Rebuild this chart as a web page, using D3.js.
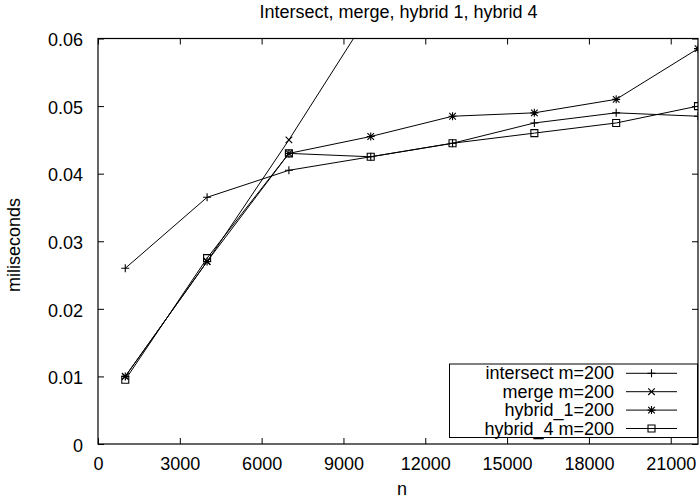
<!DOCTYPE html>
<html><head><meta charset="utf-8">
<script src="https://cdn.jsdelivr.net/npm/d3@7"></script>
<style>body{margin:0;background:#fff}svg{display:block}text{font-family:"Liberation Sans",Arial,sans-serif;fill:#000}</style>
</head><body><svg id="c" width="700" height="501"></svg>
<script>
const nValues = [1000, 4000, 7000, 10000, 13000, 16000, 19000, 22000];
const intersectVals = [0.026, 0.0365, 0.0405, 0.0425, 0.0445, 0.0475, 0.049, 0.0485];
const mergeVals = [0.010, 0.027, 0.045, 0.064];
const hybrid1Vals = [0.010, 0.027, 0.043, 0.0455, 0.0485, 0.049, 0.051, 0.0585];
const hybrid4Vals = [0.0095, 0.0275, 0.043, 0.0425, 0.0445, 0.046, 0.0475, 0.050];
const seriesNames = ["intersect m=200", "merge m=200", "hybrid_1=200", "hybrid_4 m=200"];
const markerTypes = ["plus", "cross", "star", "square"];
const xTicks = [0, 3000, 6000, 9000, 12000, 15000, 18000, 21000];
const yTicks = [0, 0.01, 0.02, 0.03, 0.04, 0.05, 0.06];
const titleText = "Intersect, merge, hybrid 1, hybrid 4";

const FS = "18px";
const svg = d3.select("#c");
const L = 98, R = 698, T = 38.5, B = 444;
const x = d3.scaleLinear().domain([0, 22000]).range([L, R]);
const y = d3.scaleLinear().domain([0, 0.06]).range([B, T]);

const series = [intersectVals, mergeVals, hybrid1Vals, hybrid4Vals].map((vals, i) => ({
  name: seriesNames[i], marker: markerTypes[i],
  pts: vals.map((v, j) => [nValues[j], v])
}));

svg.append("defs").append("clipPath").attr("id", "clip")
  .append("rect").attr("x", L).attr("y", T).attr("width", R - L).attr("height", B - T);

svg.append("text").attr("x", 398.5).attr("y", 18).attr("text-anchor", "middle")
  .style("font-size", FS).text(titleText);

// axes
const tl = 6;
const gx = svg.append("g").attr("transform", `translate(0,${B})`)
  .call(d3.axisBottom(x).tickValues(xTicks).tickSize(-tl).tickPadding(13).tickFormat(d3.format("d")));
const gxt = svg.append("g").attr("transform", `translate(0,${T})`)
  .call(d3.axisTop(x).tickValues(xTicks).tickSize(-tl).tickFormat(""));
const gy = svg.append("g").attr("transform", `translate(${L},0)`)
  .call(d3.axisLeft(y).tickValues(yTicks).tickSize(-tl).tickPadding(15).tickFormat(d => d === 0 ? "0" : d3.format(".2f")(d)));
const gyr = svg.append("g").attr("transform", `translate(${R},0)`)
  .call(d3.axisRight(y).tickValues(yTicks).tickSize(-tl).tickFormat(""));
[gx, gxt, gy, gyr].forEach(g => {
  g.select(".domain").remove();
  g.selectAll("line").attr("stroke", "#000");
  g.selectAll("text").style("font-size", FS).attr("font-family", "Liberation Sans, Arial, sans-serif");
});
gy.selectAll("text").attr("dy", "0.4em");
svg.append("rect").attr("x", L).attr("y", T).attr("width", R - L).attr("height", B - T)
  .attr("fill", "none").attr("stroke", "#000").attr("stroke-width", 1.2);

svg.append("text").attr("x", 402).attr("y", 495).attr("text-anchor", "middle")
  .style("font-size", FS).text("n");
svg.append("text").attr("transform", `translate(20,245) rotate(-90)`)
  .attr("text-anchor", "middle").style("font-size", FS).text("miliseconds");

function drawMarker(g, type, cx, cy) {
  const s = 4;
  const p = d3.path();
  if (type === "plus" || type === "star") {
    p.moveTo(cx - s, cy); p.lineTo(cx + s, cy);
    p.moveTo(cx, cy - s); p.lineTo(cx, cy + s);
  }
  if (type === "cross" || type === "star") {
    const c = 3.3;
    p.moveTo(cx - c, cy - c); p.lineTo(cx + c, cy + c);
    p.moveTo(cx - c, cy + c); p.lineTo(cx + c, cy - c);
  }
  if (type === "square") {
    p.rect(cx - 3.5, cy - 3.5, 7, 7);
  }
  g.append("path").attr("d", p.toString()).attr("fill", "none").attr("stroke", "#000").attr("stroke-width", 1.1);
}

const plot = svg.append("g").attr("clip-path", "url(#clip)");
const line = d3.line().x(d => x(d[0])).y(d => y(d[1]));
series.forEach(s => {
  plot.append("path").datum(s.pts).attr("d", line).attr("fill", "none").attr("stroke", "#000").attr("stroke-width", 1);
  s.pts.forEach(d => drawMarker(plot, s.marker, x(d[0]), y(d[1])));
});

// legend
const lg = svg.append("g");
lg.append("rect").attr("x", 449.5).attr("y", 364).attr("width", 248).attr("height", 73.5)
  .attr("fill", "#fff").attr("stroke", "#000").attr("stroke-width", 1);
series.forEach((s, i) => {
  const yy = 373.3 + i * 18.4;
  lg.append("text").attr("x", 614).attr("y", yy + 6).attr("text-anchor", "end")
    .style("font-size", FS).text(s.name);
  lg.append("line").attr("x1", 626).attr("x2", 677).attr("y1", yy).attr("y2", yy).attr("stroke", "#000");
  drawMarker(lg, s.marker, 651.5, yy);
});
</script></body></html>
